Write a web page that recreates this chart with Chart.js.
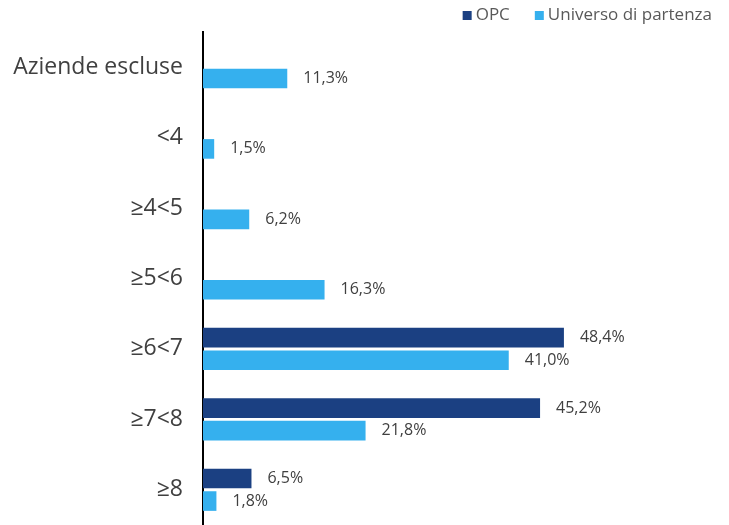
<!DOCTYPE html>
<html>
<head>
<meta charset="utf-8">
<script src="https://cdn.jsdelivr.net/npm/chart.js@4"></script>
<style>
  html, body { margin: 0; padding: 0; background: #fff; overflow: hidden; }
  canvas { display: block; }
</style>
</head>
<body>
<canvas id="chart-bars" width="729" height="525"></canvas>
<script>
// data
var categories = ["Aziende escluse", "<4", "≥4<5", "≥5<6", "≥6<7", "≥7<8", "≥8"];
var opc = [null, null, null, null, 48.4, 45.2, 6.5];
var universo = [11.3, 1.5, 6.2, 16.3, 41.0, 21.8, 1.8];

// value labels at the end of each bar
var valueLabels = {
  id: 'valueLabels',
  afterDatasetsDraw: function (chart) {
    var ctx = chart.ctx;
    ctx.save();
    ctx.font = '16px "Open Sans"';
    ctx.fillStyle = '#404040';
    ctx.textBaseline = 'middle';
    ctx.textAlign = 'left';
    chart.data.datasets.forEach(function (ds, i) {
      chart.getDatasetMeta(i).data.forEach(function (bar, j) {
        var v = ds.data[j];
        if (v == null) return;
        ctx.fillText(v.toFixed(1).replace('.', ',') + '%', bar.x + 16, bar.y);
      });
    });
    ctx.restore();
  }
};

// small legend top right: square + text, tight spacing
var topLegend = {
  id: 'topLegend',
  afterDraw: function (chart) {
    var ctx = chart.ctx;
    ctx.save();
    ctx.font = '17px "Open Sans"';
    ctx.textBaseline = 'middle';
    var x = 712, y = 15.5;
    var ds = chart.data.datasets.slice().reverse();
    ds.forEach(function (d, k) {
      var w = ctx.measureText(d.label).width;
      x -= w;
      ctx.fillStyle = '#595959';
      ctx.fillText(d.label, x, y);
      x -= 4 + 9;
      ctx.fillStyle = d.backgroundColor;
      ctx.fillRect(x, y - 4.5, 9, 9);
      x -= 25;
    });
    ctx.restore();
  }
};

var ctx = document.getElementById("chart-bars").getContext("2d");

new Chart(ctx, {
  type: "bar",
  data: {
    labels: categories,
    datasets: [{
      label: "OPC",
      backgroundColor: "#1b4082",
      borderWidth: 0,
      data: opc,
      categoryPercentage: 0.64,
      barPercentage: 0.87
    }, {
      label: "Universo di partenza",
      backgroundColor: "#35b0ee",
      borderWidth: 0,
      data: universo,
      categoryPercentage: 0.64,
      barPercentage: 0.87
    }]
  },
  plugins: [valueLabels, topLegend],
  options: {
    indexAxis: 'y',
    responsive: false,
    animation: false,
    layout: {
      padding: { left: 0, right: 4, top: 32, bottom: 0 }
    },
    plugins: {
      legend: { display: false },
      tooltip: { enabled: false }
    },
    scales: {
      x: {
        display: false,
        min: 0,
        max: 70
      },
      y: {
        afterFit: function (scale) {
          scale.width = 203;
          scale.paddingTop = 0;
          scale.paddingBottom = 0;
        },
        grid: {
          display: false,
          drawTicks: false
        },
        border: {
          display: true,
          color: '#000',
          width: 2
        },
        ticks: {
          padding: 20,
          color: '#404040',
          font: { size: 23, family: "Open Sans" }
        }
      }
    }
  }
});
</script>
</body>
</html>
